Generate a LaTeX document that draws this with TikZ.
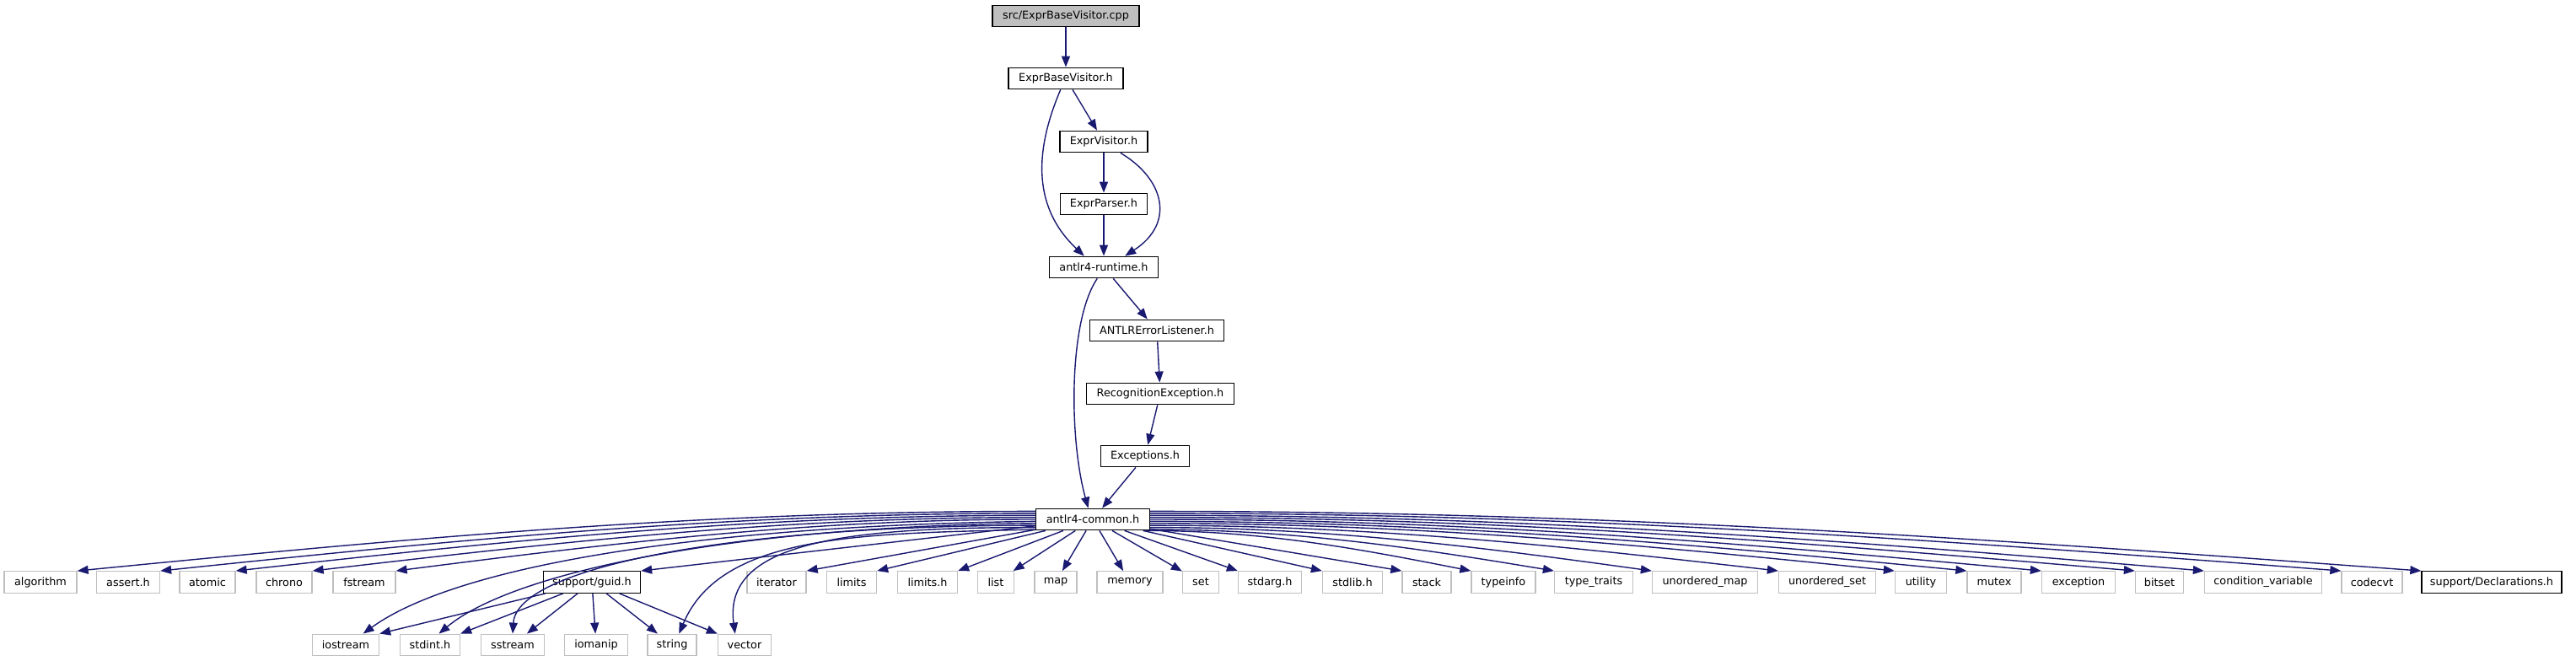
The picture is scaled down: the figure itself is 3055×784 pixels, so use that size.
\documentclass[tikz,border=0pt]{standalone}
\usepackage{fontspec}
\setmainfont{DejaVu Sans}
\usetikzlibrary{arrows.meta}
\definecolor{edgeblue}{RGB}{25,25,112}
\definecolor{extgray}{RGB}{191,191,191}
\tikzset{
 box/.style={draw=black, line width=1.3pt, inner sep=0pt, minimum height=25.5pt, font=\fontsize{12.8}{15}\selectfont, fill=white},
 ext/.style={box, draw=extgray},
 root/.style={box, fill=extgray},
 edge/.style={draw=edgeblue, line width=1.4pt, -{Triangle[length=13pt,width=10pt]}},
}
\begin{document}
\begin{tikzpicture}[x=1pt,y=1pt]
\useasboundingbox (0,0) rectangle (3055,784);
% upper chain
\node[root, minimum width=174pt] (cpp) at (1264,765) {src/ExprBaseVisitor.cpp};
\node[box, minimum width=136pt] (ebvh) at (1264,691) {ExprBaseVisitor.h};
\node[box, minimum width=104pt] (ev) at (1309,616) {ExprVisitor.h};
\node[box, minimum width=103pt] (ep) at (1309,542) {ExprParser.h};
\node[box, minimum width=129pt] (rt) at (1309,467) {antlr4-runtime.h};
\node[box, minimum width=159pt] (el) at (1372,392) {ANTLRErrorListener.h};
\node[box, minimum width=175pt] (re) at (1376,317) {RecognitionException.h};
\node[box, minimum width=105pt] (ex) at (1358,243) {Exceptions.h};
\node[box, minimum width=135pt] (common) at (1296,168) {antlr4-common.h};
% row 1
\node[ext, minimum width=86pt] (algorithm) at (48,93.5) {algorithm};
\node[ext, minimum width=75pt] (assert) at (152,93.5) {assert.h};
\node[ext, minimum width=66pt] (atomic) at (246,93.5) {atomic};
\node[ext, minimum width=66pt] (chrono) at (337,93.5) {chrono};
\node[ext, minimum width=74pt] (fstream) at (432,93.5) {fstream};
\node[box, minimum width=115pt] (guid) at (702,93.5) {support/guid.h};
\node[ext, minimum width=70pt] (iterator) at (921,93.5) {iterator};
\node[ext, minimum width=59pt] (limits) at (1010,93.5) {limits};
\node[ext, minimum width=71pt] (limitsh) at (1100,93.5) {limits.h};
\node[ext, minimum width=43pt] (list) at (1181,93.5) {list};
\node[ext, minimum width=50pt] (map) at (1252,93.5) {map};
\node[ext, minimum width=78pt] (memory) at (1340,93.5) {memory};
\node[ext, minimum width=43pt] (set) at (1424,93.5) {set};
\node[ext, minimum width=75pt] (stdarg) at (1506,93.5) {stdarg.h};
\node[ext, minimum width=71pt] (stdlib) at (1604,93.5) {stdlib.h};
\node[ext, minimum width=58pt] (stack) at (1692,93.5) {stack};
\node[ext, minimum width=76pt] (typeinfo) at (1783,93.5) {typeinfo};
\node[ext, minimum width=93pt] (typetraits) at (1890,93.5) {type\_traits};
\node[ext, minimum width=125pt] (umap) at (2022,93.5) {unordered\_map};
\node[ext, minimum width=115pt] (uset) at (2167,93.5) {unordered\_set};
\node[ext, minimum width=61pt] (utility) at (2278,93.5) {utility};
\node[ext, minimum width=64pt] (mutex) at (2365,93.5) {mutex};
\node[ext, minimum width=87pt] (exception) at (2465,93.5) {exception};
\node[ext, minimum width=57pt] (bitset) at (2561,93.5) {bitset};
\node[ext, minimum width=139pt] (condvar) at (2684,93.5) {condition\_variable};
\node[ext, minimum width=72pt] (codecvt) at (2813,93.5) {codecvt};
\node[box, minimum width=166pt] (decl) at (2955,93.5) {support/Declarations.h};
% row 2
\node[ext, minimum width=79pt] (iostream) at (410,19) {iostream};
\node[ext, minimum width=71pt] (stdint) at (510,19) {stdint.h};
\node[ext, minimum width=75pt] (sstream) at (608,19) {sstream};
\node[ext, minimum width=75pt] (iomanip) at (707,19) {iomanip};
\node[ext, minimum width=58pt] (string) at (797,19) {string};
\node[ext, minimum width=63pt] (vector) at (883,19) {vector};
% upper edges
\draw[edge] (cpp) -- (ebvh);
\draw[edge] (ebvh) -- (ev);
\draw[edge] (ebvh.245) .. controls +(-38,-89) and +(-52,49) .. (rt.150);
\draw[edge] (ev) -- (ep);
\draw[edge] (ev.-34) .. controls +(52,-31) and +(60,39) .. (rt.28);
\draw[edge] (ep) -- (rt);
\draw[edge] (rt) -- (el);
\draw[edge] (rt.240) .. controls +(-34,-50) and +(-23,83) .. (common.112);
\draw[edge] (el) -- (re);
\draw[edge] (re) -- (ex);
\draw[edge] (ex) -- (common);
% common -> left row 1
\draw[edge] (common.172) .. controls +(-398,0) and +(398,39) .. (algorithm.north east);
\draw[edge] (common.174) .. controls +(-364,0) and +(364,38) .. (assert.north east);
\draw[edge] (common.176) .. controls +(-332,0) and +(332,37) .. (atomic.north east);
\draw[edge] (common.178) .. controls +(-300,0) and +(300,35) .. (chrono.north east);
\draw[edge] (common.180) .. controls +(-266,0) and +(266,34) .. (fstream.north east);
\draw[edge] (common) -- (guid.north east);
\draw[edge] (common) -- (iterator.north east);
\draw[edge] (common) -- (limits.north east);
\draw[edge] (common) -- (limitsh.north east);
% common -> row 2
\draw[edge] (common.182) .. controls +(-400,-5) and +(110,80) .. (iostream.33);
\draw[edge] (common.184) .. controls +(-350,-3) and +(90,75) .. (stdint.52);
\draw[edge] (common.186) .. controls +(-350,0) and +(5,80) .. (sstream.north);
\draw[edge] (common.188) .. controls +(-220,0) and +(-15,110) .. (vector.130);
\draw[edge] (common.190) .. controls +(-200,-5) and +(50,120) .. (string.58);
% common -> middle
\draw[edge] (common) -- (list);
\draw[edge] (common) -- (map);
\draw[edge] (common) -- (memory);
\draw[edge] (common) -- (set);
\draw[edge] (common) -- (stdarg.north west);
\draw[edge] (common) -- (stdlib.north west);
\draw[edge] (common) -- (stack.north west);
% common -> right row 1
\draw[edge] (common.-12) .. controls +(137,0) and +(-137,27) .. (typeinfo.north west);
\draw[edge] (common.-10) .. controls +(168,0) and +(-168,28) .. (typetraits.north west);
\draw[edge] (common.-8) .. controls +(209,0) and +(-209,29) .. (umap.north west);
\draw[edge] (common.-6) .. controls +(261,0) and +(-261,30) .. (uset.north west);
\draw[edge] (common.-4) .. controls +(309,0) and +(-309,32) .. (utility.north west);
\draw[edge] (common.-2) .. controls +(339,0) and +(-339,33) .. (mutex.north west);
\draw[edge] (common.0) .. controls +(370,0) and +(-370,34) .. (exception.north west);
\draw[edge] (common.2) .. controls +(409,0) and +(-409,35) .. (bitset.north west);
\draw[edge] (common.4) .. controls +(438,0) and +(-438,37) .. (condvar.north west);
\draw[edge] (common.6) .. controls +(495,0) and +(-495,38) .. (codecvt.north west);
\draw[edge] (common.8) .. controls +(528,0) and +(-528,39) .. (decl.north west);
% guid -> row 2
\draw[edge] (guid) -- (iostream.north east);
\draw[edge] (guid) -- (stdint.north east);
\draw[edge] (guid) -- (sstream);
\draw[edge] (guid) -- (iomanip);
\draw[edge] (guid) -- (string);
\draw[edge] (guid) -- (vector);
\end{tikzpicture}
\end{document}
